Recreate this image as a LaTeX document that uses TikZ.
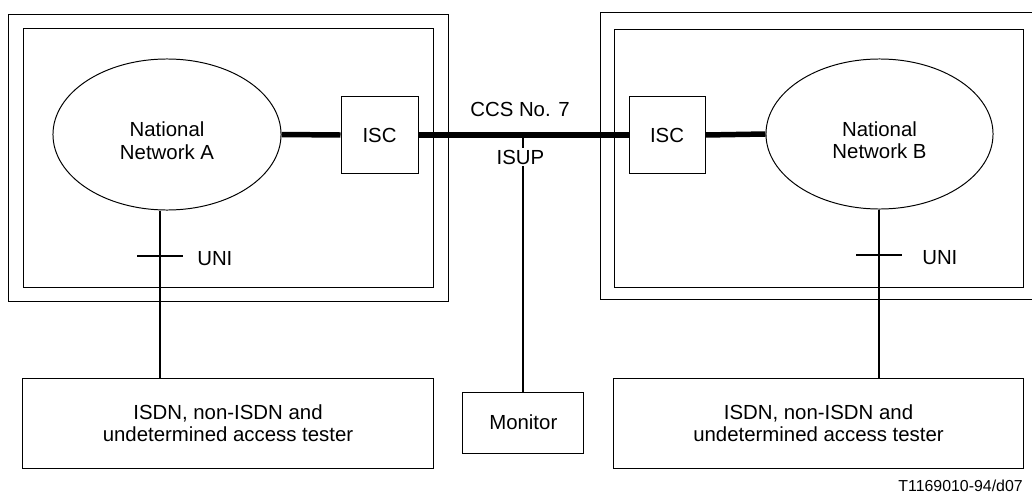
\documentclass[tikz,border=0pt]{standalone}
\usepackage{fontspec}
\setmainfont{Liberation Sans}
\usetikzlibrary{shapes.geometric}

\begin{document}
\begin{tikzpicture}[x=0.025cm,y=-0.025cm,
  every node/.style={font=\fontsize{14.5}{16}\selectfont},
  frame/.style={line width=0.7pt},
  box/.style={draw,line width=0.7pt,align=center,inner sep=0pt},
  net/.style={draw,ellipse,line width=0.7pt,inner sep=0pt},
  trunk/.style={line width=3.9pt},
  access/.style={line width=1.4pt}]
  \useasboundingbox (0,0) rectangle (1032,493);
  % double frames round the two national networks
  \draw[frame] (8,14) rectangle (448,301);
  \draw[frame] (23,28) rectangle (433,287);
  \draw[frame] (600,12) rectangle (1033,299);
  \draw[frame] (614,29) rectangle (1023,287);
  % networks and switching centres
  \node[net,minimum width=5.7cm,minimum height=3.775cm] (netA) at (167,134.5) {};
  \node[align=center] (netAtxt) at (167,140.5) {National\\Network A};
  \node[net,minimum width=5.675cm,minimum height=3.75cm] (netB) at (879.5,134) {};
  \node[align=center] (netBtxt) at (879.5,140) {National\\Network B};
  \node[box,minimum width=1.925cm,minimum height=1.9cm] (iscA) at (379.5,135) {ISC};
  \node[box,minimum width=1.9cm,minimum height=1.9cm] (iscB) at (667,135) {ISC};
  % testers and monitor
  \node[box,minimum width=10.25cm,minimum height=2.25cm] (testA) at (228,423) {ISDN, non-ISDN and\\undetermined access tester};
  \node[box,minimum width=10.225cm,minimum height=2.25cm] (testB) at (818.5,423) {ISDN, non-ISDN and\\undetermined access tester};
  \node[box,minimum width=3.025cm,minimum height=1.525cm] (mon) at (523.3,422.5) {Monitor};
  % signalling link
  \draw[trunk] (netA.east) -- (iscA.west);
  \draw[trunk] (iscA.east) -- (iscB.west);
  \draw[trunk] (iscB.east) -- (netB.west);
  \node[anchor=base] (ccs) at (520,116) {CCS No. 7};
  \draw[access] (mon.north |- iscA.east) -- (mon.north);
  \node[anchor=base,fill=white,inner sep=1.5pt] (isup) at (520.5,164) {ISUP};
  % user-network interfaces
  \coordinate (uniA) at (160,256);
  \coordinate (uniB) at (879,255);
  \draw[access] (netA.south -| uniA) -- (testA.north -| uniA);
  \draw[access] (netB.south -| uniB) -- (testB.north -| uniB);
  \draw[access] (uniA) ++(-23,0) -- ++(46,0);
  \draw[access] (uniB) ++(-23,0) -- ++(46,0);
  \node[anchor=base west,inner sep=0pt] (uniAlab) at (197,265) {UNI};
  \node[anchor=base west,inner sep=0pt] (uniBlab) at (922,264) {UNI};
  \node[anchor=base east,inner sep=0pt,font=\fontsize{11.3}{13}\selectfont] (figref) at (1023,491) {T1169010-94/d07};
\end{tikzpicture}
\end{document}
